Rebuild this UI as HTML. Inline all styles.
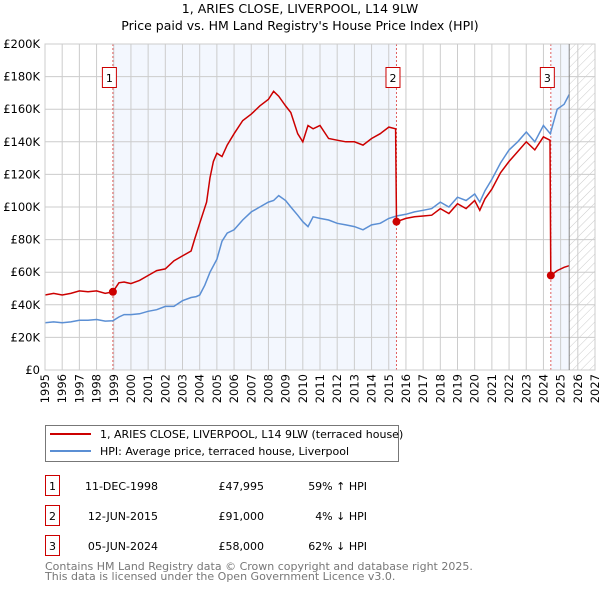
<!DOCTYPE html>
<html><head><meta charset="utf-8"><style>
body{margin:0;width:600px;height:590px;background:#fff;font-family:"Liberation Sans","DejaVu Sans",sans-serif;overflow:hidden}
svg text{font-family:"DejaVu Sans","Liberation Sans",sans-serif}
</style></head><body>
<svg id="chart" width="600" height="590" xmlns="http://www.w3.org/2000/svg">
<defs><pattern id="hatch" width="6" height="6" patternUnits="userSpaceOnUse" patternTransform="rotate(45)"><line x1="0" y1="0" x2="0" y2="6" stroke="#ccc" stroke-width="1"/></pattern></defs>
<text x="300" y="13" text-anchor="middle" font-size="12.5">1, ARIES CLOSE, LIVERPOOL, L14 9LW</text>
<text x="300" y="30" text-anchor="middle" font-size="12.5">Price paid vs. HM Land Registry's House Price Index (HPI)</text>
<g id="bg"></g><g id="grid"></g><g id="series"></g><g id="axes"></g>
<rect x="45.5" y="425.5" width="353" height="36" fill="#fff" stroke="#777"/>
<line x1="50" y1="434" x2="91" y2="434" stroke="#cc0000" stroke-width="2"/>
<text x="100" y="438" font-size="11">1, ARIES CLOSE, LIVERPOOL, L14 9LW (terraced house)</text>
<line x1="50" y1="451" x2="91" y2="451" stroke="#5b8fd4" stroke-width="2"/>
<text x="100" y="455" font-size="11">HPI: Average price, terraced house, Liverpool</text>
<g font-size="11">
<rect x="45.5" y="475.5" width="14" height="20" fill="none" stroke="#cc0000"/><text x="52.5" y="490" text-anchor="middle">1</text>
<text x="158" y="490" text-anchor="end">11-DEC-1998</text><text x="264" y="490" text-anchor="end">£47,995</text><text x="367" y="490" text-anchor="end">59% ↑ HPI</text>
<rect x="45.5" y="505.5" width="14" height="20" fill="none" stroke="#cc0000"/><text x="52.5" y="520" text-anchor="middle">2</text>
<text x="158" y="520" text-anchor="end">12-JUN-2015</text><text x="264" y="520" text-anchor="end">£91,000</text><text x="367" y="520" text-anchor="end">4% ↓ HPI</text>
<rect x="45.5" y="535.5" width="14" height="20" fill="none" stroke="#cc0000"/><text x="52.5" y="550" text-anchor="middle">3</text>
<text x="158" y="550" text-anchor="end">05-JUN-2024</text><text x="264" y="550" text-anchor="end">£58,000</text><text x="367" y="550" text-anchor="end">62% ↓ HPI</text>
</g>
<text x="45" y="570" font-size="11" fill="#777">Contains HM Land Registry data © Crown copyright and database right 2025.</text>
<text x="45" y="580" font-size="11" fill="#777">This data is licensed under the Open Government Licence v3.0.</text>
</svg>
<script>
const xTicks=[1995,1996,1997,1998,1999,2000,2001,2002,2003,2004,2005,2006,2007,2008,2009,2010,2011,2012,2013,2014,2015,2016,2017,2018,2019,2020,2021,2022,2023,2024,2025,2026,2027];
const yTicks=[0,20000,40000,60000,80000,100000,120000,140000,160000,180000,200000];
const yLabels=["£0","£20K","£40K","£60K","£80K","£100K","£120K","£140K","£160K","£180K","£200K"];
const saleYears=[1998.95,2015.45,2024.43];
const salePrices=[47995,91000,58000];
const saleLabels=["1","2","3"];
const hpiYears=[1995,1995.5,1996,1996.5,1997,1997.5,1998,1998.5,1998.95,1999.3,1999.6,2000,2000.5,2001,2001.5,2002,2002.5,2003,2003.5,2003.8,2004,2004.3,2004.6,2005,2005.3,2005.6,2006,2006.5,2007,2007.5,2008,2008.3,2008.6,2009,2009.3,2009.7,2010,2010.3,2010.6,2011,2011.5,2012,2012.5,2013,2013.5,2014,2014.5,2015,2015.45,2016,2016.5,2017,2017.5,2018,2018.5,2019,2019.5,2020,2020.3,2020.6,2021,2021.5,2022,2022.5,2023,2023.5,2024,2024.4,2024.8,2025.2,2025.5];
const hpiValues=[29000,29500,29000,29500,30500,30500,31000,30000,30200,32500,34000,34000,34500,36000,37000,39000,39000,42500,44500,45000,46000,52000,60000,68000,79000,84000,86000,92000,97000,100000,103000,104000,107000,104000,100000,95000,91000,88000,94000,93000,92000,90000,89000,88000,86000,89000,90000,93000,94500,95500,97000,98000,99000,103000,100000,106000,104000,108000,103000,110000,117000,127000,135000,140000,146000,140000,150000,145000,160000,163000,169000];
const redYears1=[1995,1995.5,1996,1996.5,1997,1997.5,1998,1998.5,1998.95,1999.3,1999.6,2000,2000.5,2001,2001.5,2002,2002.5,2003,2003.5,2003.7,2004,2004.4,2004.6,2004.8,2005,2005.3,2005.6,2006,2006.5,2007,2007.5,2008,2008.3,2008.6,2009,2009.3,2009.7,2010,2010.3,2010.6,2011,2011.5,2012,2012.5,2013,2013.5,2014,2014.5,2015,2015.4];
const redValues1=[46000,47000,46000,47000,48500,48000,48500,47000,48000,53500,54000,53000,55000,58000,61000,62000,67000,70000,73000,80000,90000,103000,118000,128000,133000,131000,138000,145000,153000,157000,162000,166000,171000,168000,162000,158000,145000,140000,150000,148000,150000,142000,141000,140000,140000,138000,142000,145000,149000,148000];
const redYears2=[2015.45,2016,2016.5,2017,2017.5,2018,2018.5,2019,2019.5,2020,2020.3,2020.6,2021,2021.5,2022,2022.5,2023,2023.5,2024,2024.38];
const redValues2=[91000,93000,94000,94500,95000,99000,96000,102000,99000,104000,98000,105000,111000,121000,128000,134000,140000,135000,143000,141000];
const redYears3=[2024.43,2024.8,2025.2,2025.5];
const redValues3=[58000,61000,63000,64000];

const NS="http://www.w3.org/2000/svg";
const X0=45,X1=595,Y0=370,Y1=44,HATCH=2025.5;
const xs=y=>X0+(y-1995)/(2027-1995)*(X1-X0);
const ys=v=>Y0-v/200000*(Y0-Y1);
function mk(tag,attrs,parent){const e=document.createElementNS(NS,tag);for(const k in attrs)e.setAttribute(k,attrs[k]);parent.appendChild(e);return e;}
const bg=document.getElementById('bg'),grid=document.getElementById('grid'),ser=document.getElementById('series'),ax=document.getElementById('axes');
let r=mk('rect',{x:X0,y:Y1,width:X1-X0,height:Y0-Y1,fill:'#fff'},bg);


r=mk('rect',{x:xs(saleYears[0]),y:Y1,width:xs(saleYears[1])-xs(saleYears[0]),height:Y0-Y1,fill:'#f3f7fe'},bg);


r=mk('rect',{x:xs(saleYears[2]),y:Y1,width:xs(HATCH)-xs(saleYears[2]),height:Y0-Y1,fill:'#f3f7fe'},bg);


r=mk('rect',{x:xs(HATCH),y:Y1,width:X1-xs(HATCH),height:Y0-Y1,fill:'url(#hatch)'},bg);


xTicks.forEach(t=>{
  const l=mk('line',{x1:xs(t),x2:xs(t),y1:Y1,y2:Y0,stroke:'#cccccc','stroke-width':1},grid);
  
  
  const tx=mk('text',{x:0,y:0,'font-size':11.5,'text-anchor':'end',transform:`translate(${xs(t)+4},374) rotate(-90)`},ax);
  tx.textContent=t;
  
  
});
yTicks.forEach((t,i)=>{
  const l=mk('line',{x1:X0,x2:X1,y1:ys(t),y2:ys(t),stroke:'#cccccc','stroke-width':1},grid);
  
  
  const tx=mk('text',{x:40,y:ys(t)+4,'font-size':11.5,'text-anchor':'end'},ax);
  tx.textContent=yLabels[i];
  
  
});
r=mk('rect',{x:X0,y:Y1,width:X1-X0,height:Y0-Y1,fill:'none',stroke:'#cccccc'},ax);


const hl=mk('line',{x1:xs(HATCH),x2:xs(HATCH),y1:Y1,y2:Y0,stroke:'#888','stroke-width':1},ax);


saleYears.forEach((yr,i)=>{
  const l=mk('line',{x1:xs(yr),x2:xs(yr),y1:Y1,y2:Y0,stroke:'#e06060','stroke-width':1,'stroke-dasharray':'2,2'},ser);
  
  
  const bx=mk('rect',{x:xs(yr)-10.5,y:67.5,width:14,height:20,fill:'#fff',stroke:'#cc0000'},ser);
  
  
  const t=mk('text',{x:xs(yr)-3.5,y:82,'font-size':11,'text-anchor':'middle'},ser);
  t.textContent=saleLabels[i];
  
  
});
const pts=(a,b)=>a.map((y,i)=>xs(y).toFixed(1)+','+ys(b[i]).toFixed(1)).join(' ');
const hp=mk('polyline',{points:pts(hpiYears,hpiValues),fill:'none',stroke:'#5b8fd4','stroke-width':1.5},ser);


const ry=redYears1.concat(redYears2,redYears3),rv=redValues1.concat(redValues2,redValues3);
const rl=mk('polyline',{points:pts(ry,rv),fill:'none',stroke:'#cc0000','stroke-width':1.5},ser);


saleYears.forEach((yr,i)=>{
  const c=mk('circle',{cx:xs(yr),cy:ys(salePrices[i]),r:4,fill:'#cc0000'},ser);
  
  
});
</script>
</body></html>
